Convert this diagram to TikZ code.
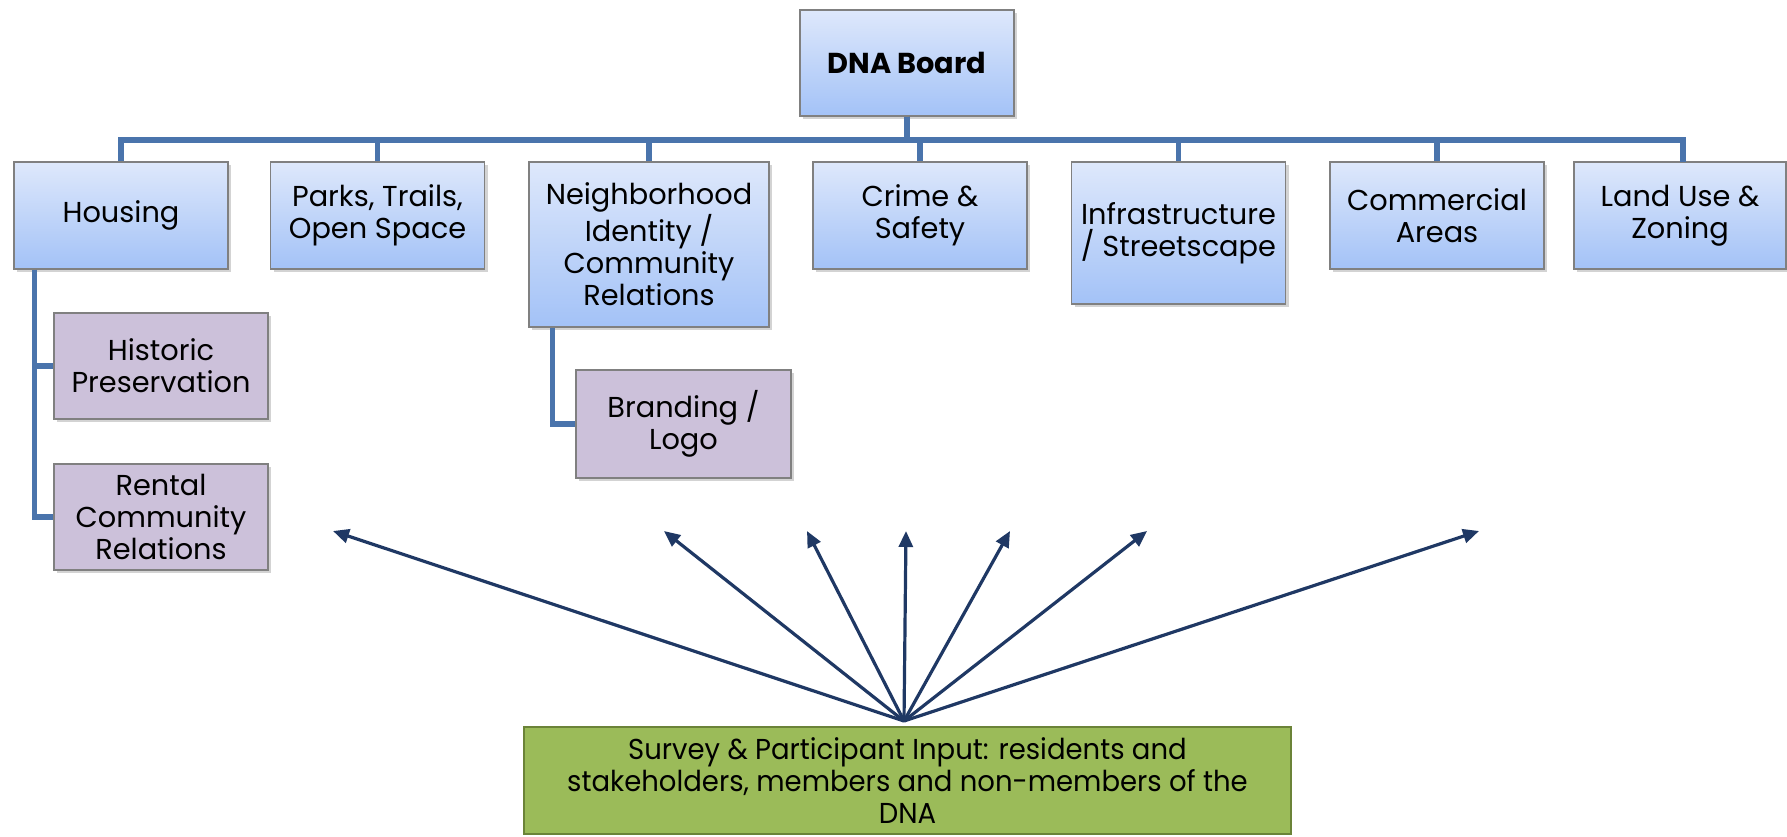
\documentclass[tikz,border=0pt]{standalone}
\usepackage{fontspec}
\setmainfont{Poppins}
\newfontfamily\condfont[FakeStretch=0.955]{Poppins}
\usetikzlibrary{shadows,arrows.meta}
\definecolor{boxtop}{HTML}{DEE8FB}
\definecolor{boxbot}{HTML}{A3C2F7}
\definecolor{boxline}{HTML}{808080}
\definecolor{subfill}{HTML}{CCC1DA}
\definecolor{survfill}{HTML}{9BBB59}
\definecolor{survline}{HTML}{6B8338}
\definecolor{conn}{HTML}{4A74AC}
\definecolor{arr}{HTML}{1F3864}
\tikzset{
  mainbox/.style={draw=boxline, line width=0.7pt, top color=boxtop, bottom color=boxbot,
    minimum width=107pt, minimum height=53.5pt, inner sep=0pt, align=center,
    font=\fontsize{14.4pt}{16pt}\selectfont,
    drop shadow={opacity=0.35, shadow xshift=1.5pt, shadow yshift=-1.5pt}},
  subbox/.style={draw=boxline, line width=0.7pt, fill=subfill,
    minimum width=107pt, minimum height=53pt, inner sep=0pt, align=center,
    font=\fontsize{14.4pt}{16pt}\selectfont,
    drop shadow={opacity=0.35, shadow xshift=1.5pt, shadow yshift=-1.5pt}},
  survbox/.style={draw=survline, line width=1.2pt, fill=survfill,
    minimum width=383.5pt, minimum height=53.5pt, inner sep=0pt, align=center,
    font=\condfont\fontsize{14.4pt}{16pt}\selectfont},
  link/.style={draw=conn, line width=2.7pt},
  inarrow/.style={draw=arr, line width=1.6pt, -{Triangle[length=8pt,width=7pt]}}
}
\begin{document}
\begin{tikzpicture}[x=0.5pt,y=-0.5pt]
\useasboundingbox (0,0) rectangle (1787,836);
% top
\node[mainbox, minimum height=53pt] (dna) at (907,63) {\textbf{DNA Board}};
% level 1
\node[mainbox] (housing) at (121,215.5) {Housing};
\node[mainbox] (parks) at (377.5,215.5) {Parks, Trails,\\Open Space};
\node[mainbox, minimum width=120pt, minimum height=82.5pt] (neigh) at (649,244.5) {Neighborhood\\Identity /\\Community\\Relations};
\node[mainbox] (crime) at (920,215.5) {Crime \&\\Safety};
\node[mainbox, minimum height=71pt] (infra) at (1178.5,233) {Infrastructure\\/ Streetscape};
\node[mainbox] (comm) at (1437,215.5) {Commercial\\Areas};
\node[mainbox, minimum width=106pt] (land) at (1680,215.5) {Land Use \&\\Zoning};
% level 2
\node[subbox] (hist) at (161,366) {Historic\\Preservation};
\node[subbox] (rental) at (161,517) {Rental\\Community\\Relations};
\node[subbox, minimum width=107.5pt, minimum height=54pt] (brand) at (683.5,424) {Branding /\\Logo};
% survey
\node[survbox] (survey) at (907.5,780.5) {Survey \& Participant Input: residents and\\stakeholders, members and non-members of the\\DNA};
% connectors
\coordinate (bar) at (907,140);
\foreach \n in {housing,parks,neigh,crime,infra,comm} {
  \draw[link] (dna.south) -- (bar) -| (\n.north);
}
\coordinate (landtop) at (1683,162);
\draw[link] (bar) -| (landtop);
\draw[link] (housing.south west) ++(21,0) |- (hist.west);
\draw[link] (housing.south west) ++(21,0) |- (rental.west);
\draw[link] (neigh.south west) ++(24,0) |- (brand.west);
% arrows
\coordinate (src) at (904,721);
\coordinate (t1) at (333,531);
\coordinate (t2) at (664,531);
\coordinate (t3) at (807,531);
\coordinate (t4) at (906,531);
\coordinate (t5) at (1010,531);
\coordinate (t6) at (1147,531);
\coordinate (t7) at (1479,531);
\foreach \t in {t1,t2,t3,t4,t5,t6,t7} {
  \draw[inarrow] (src) -- (\t);
}
\end{tikzpicture}
\end{document}
